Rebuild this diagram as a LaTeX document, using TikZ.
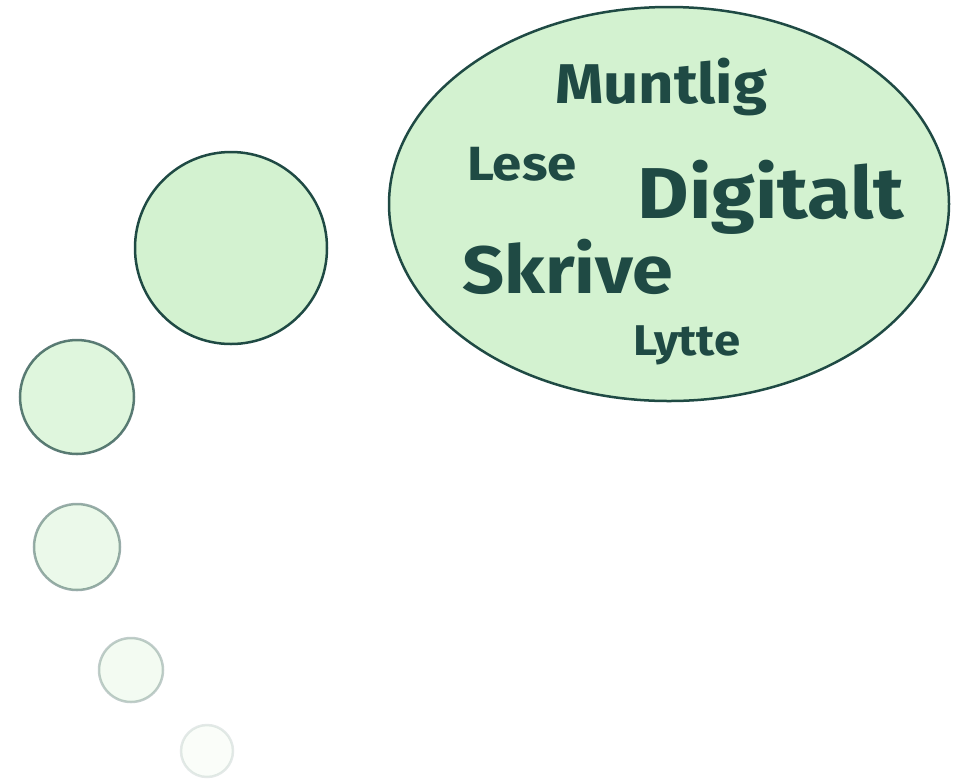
\documentclass[tikz,border=0pt]{standalone}
\usepackage{fontspec}
\setmainfont{Fira Sans}
\newfontfamily\wordfont[FakeStretch=1.1]{Fira Sans}
\usepackage{xcolor}
\usetikzlibrary{calc}
\definecolor{bubblefill}{HTML}{D3F2D0}
\definecolor{bubbleline}{HTML}{1F4A44}
\definecolor{wordcol}{HTML}{1F4A44}
\tikzset{
  bubble/.style={draw=bubbleline, fill=bubblefill, line width=2.5pt},
  word/.style={text=wordcol, inner sep=0pt, anchor=base},
}

\begin{document}
\begin{tikzpicture}[x=1pt,y=-1pt]
  \useasboundingbox (0,0) rectangle (960,780);

  % thought bubble
  \draw[bubble] (669,204) ellipse [x radius=280, y radius=197];

  % trailing circles: x/y/r/opacity
  \foreach \cx/\cy/\r/\op in {231/248/96/1, 77/397/57/0.72, 77/547/43/0.45, 131/670/32/0.28, 207/751/26/0.12}{
    \draw[bubble, opacity=\op] (\cx,\cy) circle [radius=\r];
  }

  % words
  \node[word, font=\wordfont\bfseries\fontsize{56}{56}\selectfont] (muntlig) at (661,103) {Muntlig};
  \node[word, font=\wordfont\bfseries\fontsize{48}{48}\selectfont] (lese) at (522,180) {Lese};
  \node[word, font=\wordfont\bfseries\fontsize{72}{72}\selectfont] (digitalt) at (771,218) {Digitalt};
  \node[word, font=\wordfont\bfseries\fontsize{67}{67}\selectfont] (skrive) at (568,293) {Skrive};
  \node[word, font=\wordfont\bfseries\fontsize{43}{43}\selectfont] (lytte) at (687,355) {Lytte};
\end{tikzpicture}
\end{document}
